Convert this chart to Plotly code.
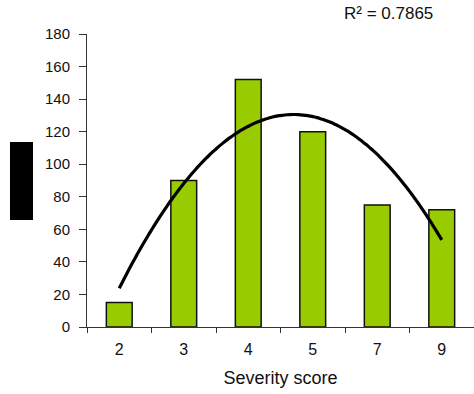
import numpy as np
import plotly.graph_objects as go

# Severity score categories and patient counts
scores = ["2", "3", "4", "5", "7", "9"]
counts = [15, 90, 152, 120, 75, 72]
r_squared_label = "R\u00b2 = 0.7865"

# Second-order polynomial trendline over category positions
pos = np.arange(1, len(scores) + 1)
coef = np.polyfit(pos, counts, 2)
t = np.linspace(1, len(scores), 120)
trend = np.polyval(coef, t)

FONT = "Liberation Sans, Arial, sans-serif"
AXIS_COLOR = "#333333"

fig = go.Figure()
fig.add_trace(go.Bar(
    x=scores, y=counts, width=0.4,
    marker=dict(color="#99CC00", line=dict(color="#111111", width=1.5)),
    xaxis="x", yaxis="y", showlegend=False,
))
fig.add_trace(go.Scatter(
    x=t - 1, y=trend, mode="lines",
    line=dict(color="black", width=3.2, shape="spline"),
    xaxis="x2", yaxis="y", showlegend=False,
))

fig.update_layout(
    width=474, height=394,
    margin=dict(l=87, r=0, t=34, b=67),
    paper_bgcolor="white", plot_bgcolor="white",
    font=dict(family=FONT, size=14, color="#111111"),
    xaxis=dict(
        type="category", categoryorder="array", categoryarray=scores,
        range=[-0.5, 5.5],
        showline=True, linecolor=AXIS_COLOR, linewidth=1,
        ticks="outside", tickson="boundaries", ticklen=5, tickcolor=AXIS_COLOR,
        showgrid=False, zeroline=False,
        tickfont=dict(size=16), ticklabelstandoff=8,
        title=dict(text="Severity score", font=dict(size=18), standoff=14),
    ),
    xaxis2=dict(
        overlaying="x", range=[-0.5, 5.5], visible=False,
    ),
    yaxis=dict(
        range=[0, 180], tickvals=list(range(0, 181, 20)),
        showline=True, linecolor=AXIS_COLOR, linewidth=1,
        ticks="outside", ticklen=7, tickcolor=AXIS_COLOR,
        showgrid=False, zeroline=False,
        tickfont=dict(size=15), ticklabelstandoff=6,
    ),
    annotations=[dict(
        text=r_squared_label, xref="paper", yref="paper",
        x=0.9, y=1.07, xanchor="right", yanchor="middle",
        showarrow=False, font=dict(size=17, color="#111111"),
    )],
    shapes=[dict(
        type="rect", xref="paper", yref="paper",
        x0=-0.199, x1=-0.1395, y0=0.365, y1=0.631,
        fillcolor="black", line=dict(width=0),
    )],
)

fig.write_html("out.html")
